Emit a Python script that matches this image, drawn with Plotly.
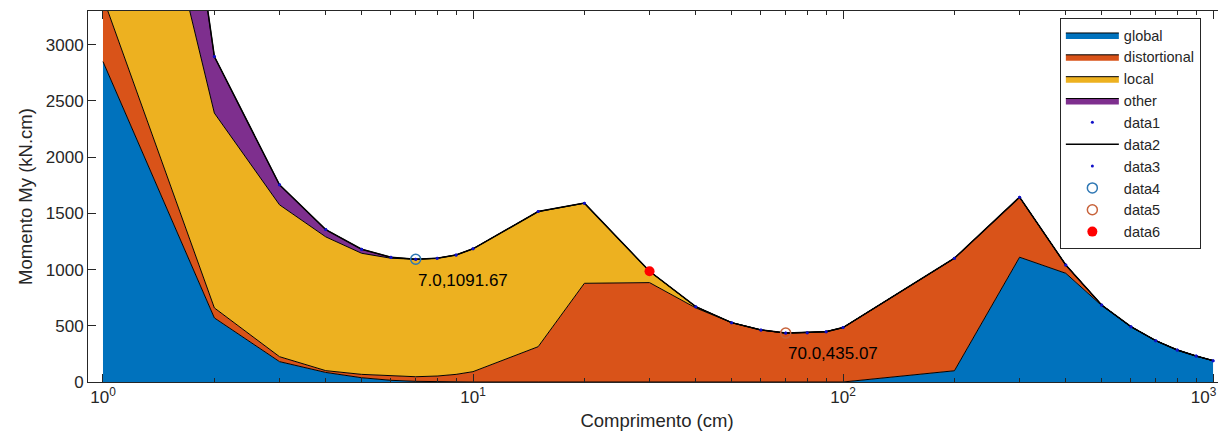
import plotly.graph_objects as go
import numpy as np

# ---- data ----
lengths = [1, 2, 3, 4, 5, 6, 7, 8, 9, 10, 15, 20, 30, 40, 50, 60, 70, 80, 90, 100,
           200, 300, 400, 500, 600, 700, 800, 900, 1000]
global_mode = [2850, 570, 181, 85, 38, 15, 6, 2, 1, 0, 0, 0, 0, 0, 0, 0, 0, 0, 0, 0,
               100, 1110, 967, 680, 492, 368, 285, 231, 190]
distortional_mode = [570, 89, 44, 16, 30, 38, 41, 51, 67, 92, 314, 878, 884, 659, 528, 463,
                     435.07, 439, 448, 484, 1001, 534, 74, 5, 0, 0, 0, 0, 0]
local_mode = [3080, 1733, 1351, 1190, 1077, 1048, 1044.67, 1048, 1062, 1093, 1202, 713, 101, 11,
              0, 0, 0, 0, 0, 0, 0, 0, 0, 0, 0, 0, 0, 0, 0]
other_mode = [3300, 503, 178, 65, 36, 9, 0, 0, 0, 0, 0, 0, 0, 0, 0, 0, 0, 0, 0, 0,
              0, 0, 0, 0, 0, 0, 0, 0, 0]

local_min_x, local_min_y = [7.0], [1091.67]
dist_min_x, dist_min_y = [70.0], [435.07]
transition_x, transition_y = [30.0], [985.0]

y_ticks = [0, 500, 1000, 1500, 2000, 2500, 3000]
x_ticks = [1, 10, 100, 1000]
x_ticktext = ["10<sup>0</sup>", "10<sup>1</sup>", "10<sup>2</sup>",
              "10<sup>3</sup>\u00a0\u00a0\u00a0\u00a0"]
x_minor = [m * d for d in (1, 10, 100) for m in range(2, 10)]

total = np.sum([global_mode, distortional_mode, local_mode, other_mode], axis=0)

FONT = "Liberation Sans, Arial, sans-serif"
AX = "#262626"

fig = go.Figure()
layers = [("global", global_mode, "#0072BD"),
          ("distortional", distortional_mode, "#D95319"),
          ("local", local_mode, "#EDB120"),
          ("other", other_mode, "#7E2F8E")]
for name, vals, col in layers:
    fig.add_trace(go.Scatter(x=lengths, y=vals, name=name, mode="lines", stackgroup="modes",
                             fillcolor=col, line=dict(color="black", width=1)))

fig.add_trace(go.Scatter(x=lengths, y=total, name="data1", mode="markers",
                         marker=dict(color="#1010c8", size=3)))
fig.add_trace(go.Scatter(x=lengths, y=total, name="data2", mode="lines",
                         line=dict(color="black", width=1.5)))
fig.add_trace(go.Scatter(x=lengths, y=total, name="data3", mode="markers",
                         marker=dict(color="#1010c8", size=3)))
fig.add_trace(go.Scatter(x=local_min_x, y=local_min_y, name="data4", mode="markers",
                         marker=dict(symbol="circle-open", color="#2f78b4", size=10,
                                     line=dict(width=1.5))))
fig.add_trace(go.Scatter(x=dist_min_x, y=dist_min_y, name="data5", mode="markers",
                         marker=dict(symbol="circle-open", color="#c8643c", size=10,
                                     line=dict(width=1.5))))
fig.add_trace(go.Scatter(x=transition_x, y=transition_y, name="data6", mode="markers",
                         marker=dict(symbol="circle", color="#ff0000", size=10)))

fig.add_annotation(x=np.log10(local_min_x[0]), y=local_min_y[0],
                   text=f"{local_min_x[0]:.1f},{local_min_y[0]:.2f}",
                   showarrow=False, xanchor="left", yanchor="middle", yshift=-21,
                   font=dict(family=FONT, size=17, color="black"))
fig.add_annotation(x=np.log10(dist_min_x[0]), y=dist_min_y[0],
                   text=f"{dist_min_x[0]:.1f},{dist_min_y[0]:.2f}",
                   showarrow=False, xanchor="left", yanchor="middle", yshift=-20,
                   font=dict(family=FONT, size=17, color="black"))

# page body has an 8px default margin: size the figure so the plot area lands
# at x 88..1226, y 11..382 in the 1226x435 window
fig.update_layout(
    width=1218, height=427,
    margin=dict(l=80, r=0, t=3, b=53, autoexpand=False),
    paper_bgcolor="white", plot_bgcolor="white",
    font=dict(family=FONT, size=17, color=AX),
    showlegend=True,
    legend=dict(x=0.854, y=0.981, xanchor="left", yanchor="top",
                bgcolor="white", bordercolor=AX, borderwidth=1,
                font=dict(family=FONT, size=14.5, color=AX),
                traceorder="normal", itemwidth=53, tracegroupgap=0),
)
fig.update_xaxes(type="log", range=[-0.0405, 3.035], automargin=False,
                 tickvals=x_ticks, ticktext=x_ticktext, ticklabeloverflow="allow",
                 ticks="inside", ticklen=8, tickcolor=AX, tickwidth=1,
                 minor=dict(tickvals=x_minor, ticks="inside", ticklen=4, tickcolor=AX),
                 showline=True, linecolor=AX, linewidth=1, mirror="ticks",
                 showgrid=False, zeroline=False,
                 title=dict(text="Comprimento (cm)", font=dict(size=18.5), standoff=7))
fig.update_yaxes(range=[0, 3300], tickvals=y_ticks, automargin=False,
                 ticks="inside", ticklen=8, tickcolor=AX, tickwidth=1,
                 showline=True, linecolor=AX, linewidth=1, mirror="ticks",
                 showgrid=False, zeroline=False,
                 title=dict(text="Momento My (kN.cm)", font=dict(size=18.5), standoff=8))

fig.write_html("out.html")
